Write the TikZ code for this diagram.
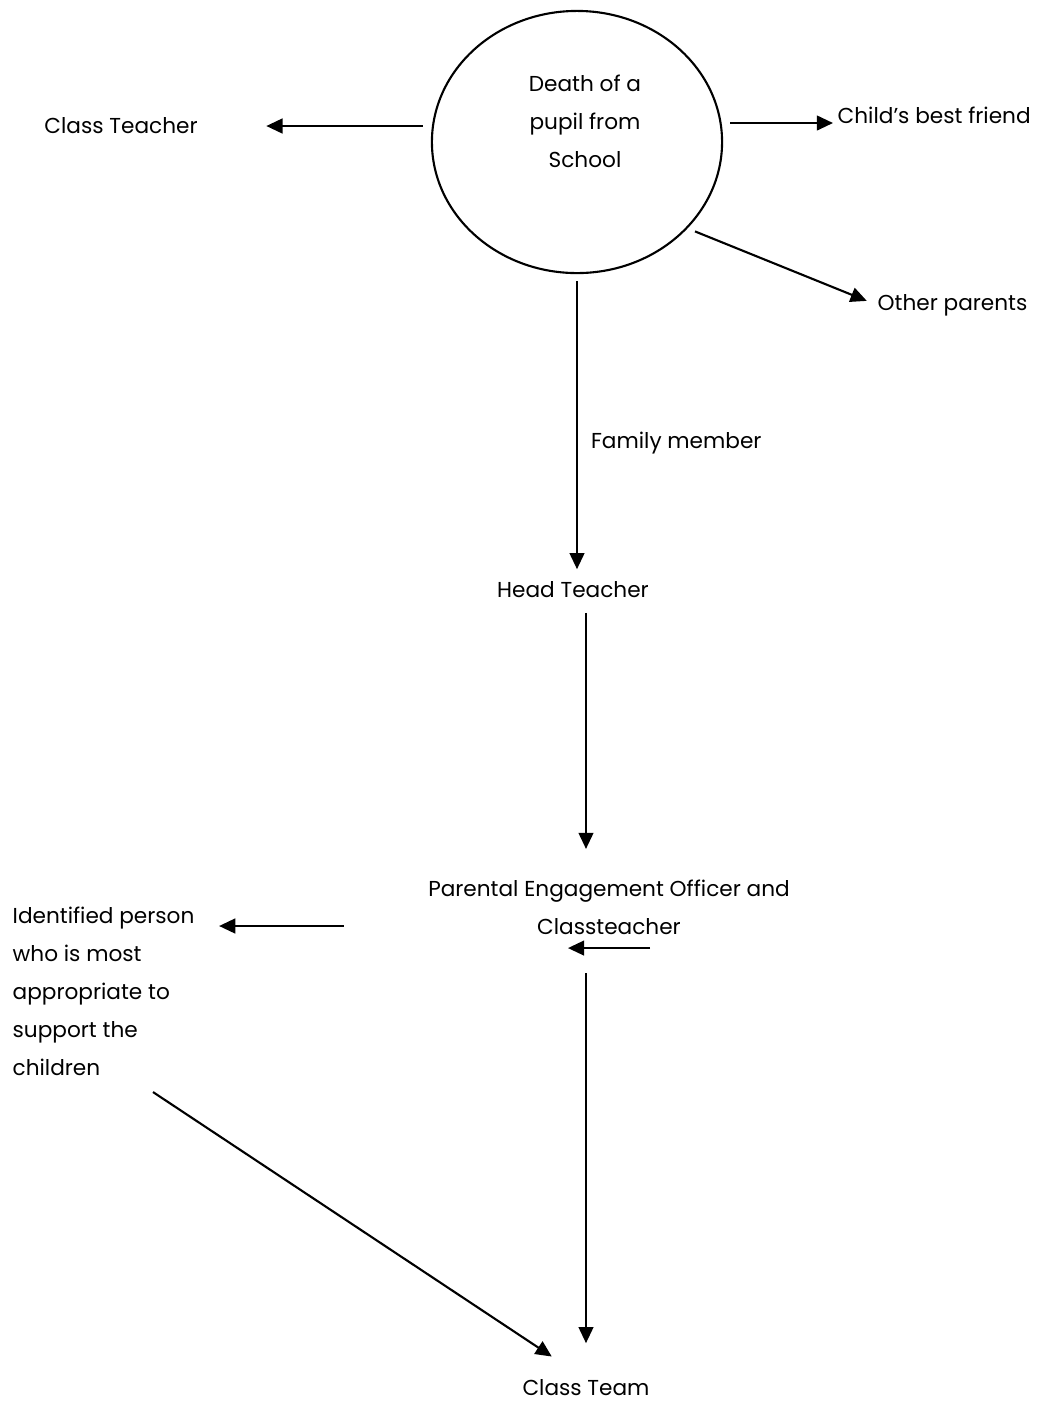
\documentclass[tikz,border=0pt]{standalone}
\usepackage{fontspec}
\setmainfont{Poppins}
\usetikzlibrary{arrows.meta,shapes.geometric,calc}

\tikzset{
    lbl/.style={inner sep=0pt, font=\fontsize{6.15}{10.8}\selectfont},
    arr/.style={line width=0.6pt, -{Triangle[length=4.6pt,width=4.2pt]}},
}

\begin{document}
\begin{tikzpicture}[x=0.01cm, y=-0.01cm]
    \useasboundingbox (0,0) rectangle (1041,1402);

    % Central event
    \node[draw, ellipse, line width=0.6pt, minimum width=2.9cm, minimum height=2.62cm] (death) at (577,142) {};
    \node[lbl, align=center] (deathtxt) at (585,121) {Death of a\\pupil from\\School};

    % People told
    \node[lbl] (clt) at (121,126) {Class Teacher};
    \node[lbl, anchor=base west] (cbf) at (837,123) {Child’s best friend};
    \node[lbl, anchor=west] (op) at (877,305) {Other parents};
    \node[lbl] (ht) at (573,590) {Head Teacher};
    \node[lbl, align=center] (peo) at (609,907) {Parental Engagement Officer and\\Classteacher};
    \node[lbl, align=left, anchor=north west] (idp) at (12,906) {Identified person\\who is most\\appropriate to\\support the\\children};
    \node[lbl] (ctm) at (586,1388) {Class Team};

    % Arrows out of the circle
    \draw[arr, shorten <=0.08cm, shorten >=0.68cm] (death.west |- clt.east) -- (clt.east);
    \draw[arr, shorten <=0.07cm, shorten >=0.04cm] (death.east |- cbf.base west) -- (cbf.base west);
    \draw[arr, shorten <=0.08cm, shorten >=0.11cm] (death.-38) -- (op.west);
    \draw[arr, shorten <=0.07cm, shorten >=0.12cm] (death.south) -- (death.south |- ht.north)
        node[lbl, pos=0.55, right=0.13cm] (fam) {Family member};

    % Down the chain
    \draw[arr, shorten <=0.14cm, shorten >=0.30cm] (ht.south -| ctm.north) -- (peo.north -| ctm.north);
    \draw[arr] ($(peo.west)+(-84,19)$) -- ($(idp.north east)+(24,20)$);
    \draw[arr] ($(peo.south)+(41,13)$) -- ($(peo.south)+(-41,13)$);
    \draw[arr, shorten <=0.38cm, shorten >=0.36cm] (peo.south -| ctm.north) -- (ctm.north);
    \draw[arr, shorten >=0.41cm] ($(idp.south west)+(141,16)$) -- (ctm.north);
\end{tikzpicture}
\end{document}
